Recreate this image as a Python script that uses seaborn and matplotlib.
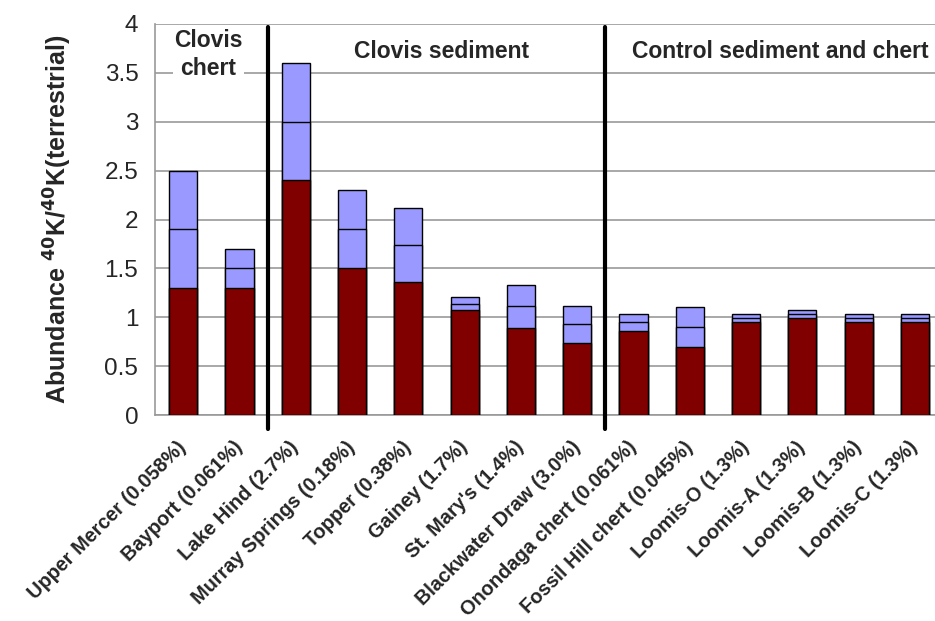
import numpy as np
import pandas as pd
import matplotlib
matplotlib.use("Agg")
import matplotlib.pyplot as plt
import seaborn as sns

# sites and K-40 abundance ranges (low / mid / high)
sites = ["Upper Mercer (0.058%)", "Bayport (0.061%)", "Lake Hind (2.7%)",
         "Murray Springs (0.18%)", "Topper (0.38%)", "Gainey (1.7%)",
         "St. Mary's (1.4%)", "Blackwater Draw (3.0%)", "Onondaga chert (0.061%)",
         "Fossil Hill chert (0.045%)", "Loomis-O (1.3%)", "Loomis-A (1.3%)",
         "Loomis-B (1.3%)", "Loomis-C (1.3%)"]
low = [1.30, 1.30, 2.40, 1.50, 1.36, 1.07, 0.89, 0.74, 0.86, 0.70, 0.95, 0.99, 0.95, 0.95]
mid = [1.90, 1.50, 3.00, 1.90, 1.74, 1.14, 1.11, 0.93, 0.95, 0.90, 0.99, 1.03, 0.99, 0.99]
high = [2.50, 1.70, 3.60, 2.30, 2.12, 1.21, 1.33, 1.12, 1.03, 1.10, 1.03, 1.07, 1.03, 1.03]

groups = ["Clovis\nchert", "Clovis sediment", "Control sediment and chert"]
group_bounds = [1.5, 7.5]

df = pd.DataFrame({"site": sites, "low": low, "mid": mid, "high": high})

sns.set_style("white")
plt.rcParams["font.family"] = ["Liberation Sans", "DejaVu Sans"]

fig = plt.figure(figsize=(9.35, 6.21), dpi=100)
ax = fig.add_axes([155/935, 1 - 415/621, 788/935, 391/621])

blue = "#9999FF"
red = "#800000"
for col, c in [("high", blue), ("mid", blue), ("low", red)]:
    sns.barplot(data=df, x="site", y=col, color=c, width=0.5, saturation=1,
                edgecolor="black", linewidth=1.0, ax=ax, zorder=3)

ax.set_xlim(-0.5, len(sites) - 0.5)
ax.set_ylim(0, 4)
ax.set_yticks(np.arange(0, 4.01, 0.5))
ax.set_yticklabels(["0", "0.5", "1", "1.5", "2", "2.5", "3", "3.5", "4"])
ax.yaxis.grid(True, color="#999999", linewidth=1.2, zorder=0)
ax.set_axisbelow(True)

for s in ["top", "right"]:
    ax.spines[s].set_visible(False)
for s in ["left", "bottom"]:
    ax.spines[s].set_color("#999999")
    ax.spines[s].set_linewidth(1.2)

ax.set_xticks(range(len(sites)))
ax.set_xticklabels(sites, rotation=45, ha="right", va="center",
                   rotation_mode="anchor", fontsize=14.3, fontweight="bold")
ax.tick_params(axis="x", which="major", length=0, pad=21)
ax.set_xticks(np.arange(-0.5, len(sites), 1), minor=True)
ax.tick_params(axis="x", which="minor", length=5, color="#999999", width=1.2)
ax.tick_params(axis="y", length=6, color="#999999", width=1.2, labelsize=17.5, pad=6)

ax.set_xlabel("")
ax.set_ylabel(r"Abundance $\mathbf{^{40}}$K/$\mathbf{^{40}}$K(terrestrial)",
              fontsize=18, fontweight="bold", labelpad=22)

for b in group_bounds:
    ax.plot([b, b], [-0.14, 3.97], color="black", linewidth=3, clip_on=False, zorder=5)

ax.text(0.45, 3.69, groups[0], ha="center", va="center", fontsize=16.5,
        fontweight="bold", linespacing=1.25, zorder=6,
        bbox=dict(facecolor="white", edgecolor="none", pad=1))
ax.text(4.6, 3.72, groups[1], ha="center", va="center", fontsize=16.5,
        fontweight="bold", zorder=6,
        bbox=dict(facecolor="white", edgecolor="none", pad=1))
ax.text(7.98, 3.72, groups[2], ha="left", va="center", fontsize=16.5,
        fontweight="bold", zorder=6,
        bbox=dict(facecolor="white", edgecolor="none", pad=1))

fig.savefig("out.png", dpi=100)
